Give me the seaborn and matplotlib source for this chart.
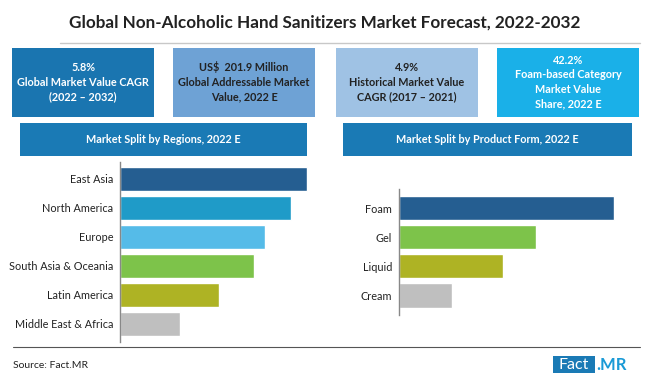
import pandas as pd
import matplotlib.pyplot as plt
import seaborn as sns
from matplotlib.patches import Rectangle

# data (share of market value, %)
regions = ["East Asia", "North America", "Europe", "South Asia & Oceania",
           "Latin America", "Middle East & Africa"]
region_share = [23.5, 21.5, 18.2, 16.9, 12.4, 7.5]
region_colors = ["#255e91", "#1f9bc8", "#55bbe8", "#7dc34a", "#aeb324", "#bfbfbf"]

forms = ["Foam", "Gel", "Liquid", "Cream"]
form_share = [42.2, 26.9, 20.4, 10.5]
form_colors = ["#255e91", "#7dc34a", "#aeb324", "#bfbfbf"]

kpi_texts = ["5.8%\nGlobal Market Value CAGR\n(2022 \u2013 2032)",
             "US$  201.9 Million\nGlobal Addressable Market\nValue, 2022 E",
             "4.9%\nHistorical Market Value\nCAGR (2017 \u2013 2021)",
             "42.2%\nFoam-based Category\nMarket Value\nShare, 2022 E"]
kpi_colors = ["#1a75b0", "#6ea2d5", "#9fc2e4", "#1ab0e8"]
kpi_text_colors = ["white", "#222222", "#222222", "white"]

sns.set_style("white")
plt.rcParams['font.family'] = ['Lato', 'DejaVu Sans']

W, H = 650, 381
fig = plt.figure(figsize=(6.5, 3.81), dpi=100)

def fx(px):
    return px / W

def fy(py):
    return 1 - py / H

# title + underline
fig.text(0.5, fy(23), "Global Non-Alcoholic Hand Sanitizers Market Forecast, 2022-2032",
         ha="center", va="center", fontsize=12.3, fontweight="bold", color="#222222")
fig.add_artist(plt.Line2D([fx(60), fx(640)], [fy(42.7), fy(42.7)], color="#c8c8c8", lw=1))

# KPI boxes
box_x = [12, 173, 336, 497]
for x0, txt, c, tc in zip(box_x, kpi_texts, kpi_colors, kpi_text_colors):
    fig.add_artist(Rectangle((fx(x0), fy(117)), fx(142), fy(47.7) - fy(117),
                             facecolor=c, edgecolor="none", transform=fig.transFigure))
    fig.text(fx(x0 + 71), fy(82), txt, ha="center", va="center", fontsize=7.8,
             fontweight="bold", color=tc, linespacing=1.4)

# section headers
for x0, x1, txt in [(20, 307, "Market Split by Regions, 2022 E"),
                    (343, 632, "Market Split by Product Form, 2022 E")]:
    fig.add_artist(Rectangle((fx(x0), fy(156)), fx(x1 - x0), fy(123.3) - fy(156),
                             facecolor="#1a7ab5", edgecolor="none", transform=fig.transFigure))
    fig.text(fx((x0 + x1) / 2), fy(139.5), txt, ha="center", va="center",
             fontsize=7.8, fontweight="bold", color="white")

# left bar chart
df_r = pd.DataFrame({"region": regions, "share": region_share})
ax1 = fig.add_axes([fx(120), fy(341.7), fx(190), 180 / H])
sns.barplot(data=df_r, x="share", y="region", hue="region", palette=region_colors,
            width=0.83, saturation=1, legend=False, ax=ax1)
ax1.set_xlim(0, 190 / (187 / 23.5))
ax1.set_ylim(5.62, -0.59)

# right bar chart
df_f = pd.DataFrame({"form": forms, "share": form_share})
ax2 = fig.add_axes([fx(399), fy(315), fx(231), 126 / H])
sns.barplot(data=df_f, x="share", y="form", hue="form", palette=form_colors,
            width=0.83, saturation=1, legend=False, ax=ax2)
ax2.set_xlim(0, 231 / (215 / 42.2))
ax2.set_ylim(3.67, -0.66)

for ax in [ax1, ax2]:
    ax.set_xlabel("")
    ax.set_ylabel("")
    ax.set_xticks([])
    ax.tick_params(axis="y", length=0, labelsize=7.8, pad=5, labelcolor="#222222")
    for s in ["top", "right", "bottom"]:
        ax.spines[s].set_visible(False)
    ax.spines["left"].set_color("#888888")
    ax.spines["left"].set_linewidth(1)
    ax.patch.set_alpha(0)

# footer
fig.add_artist(plt.Line2D([fx(13), fx(640)], [fy(347), fy(347)], color="#555555", lw=0.8))
fig.text(fx(13), fy(365), "Source: Fact.MR", ha="left", va="center", fontsize=7.5, color="#222222")
fig.add_artist(Rectangle((fx(553), fy(373)), fx(42), fy(356) - fy(373),
                         facecolor="#1a7ab5", edgecolor="none", transform=fig.transFigure))
fig.text(fx(574), fy(365), "Fact", ha="center", va="center", fontsize=11.5, color="white")
fig.text(fx(596), fy(365), ".MR", ha="left", va="center", fontsize=12,
         fontweight="bold", color="#1a9ad6")

fig.savefig("out.png", dpi=100)
